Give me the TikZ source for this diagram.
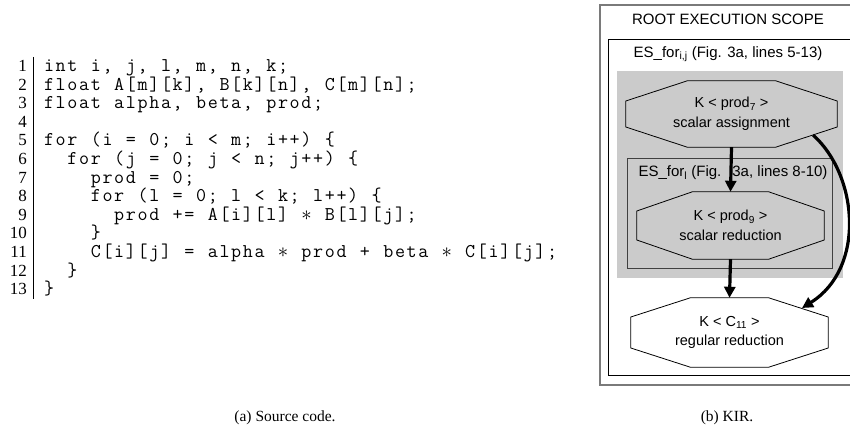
\documentclass[tikz,border=0pt]{standalone}
\usepackage{fontspec}
\setmainfont{Liberation Serif}
\newfontfamily\kirfont{Liberation Sans}
\usetikzlibrary{arrows.meta}
\pgfdeclarelayer{back}
\pgfdeclarelayer{mid}
\pgfsetlayers{back,mid,main}

\newcommand\cstar{$\ast$}
\newlength\colw \setlength\colw{11.7pt}
\def\codeend{\codeend}
\def\cl#1{\ifx\codeend#1\else\hbox to\colw{\hss#1\hss}\expandafter\cl\fi}
\newcommand\codetext[1]{\cl#1\codeend}

\newcommand\octa[4]{%
  \draw[octline, fill=#4] ([xshift=#2]#1.north west) -- ([xshift=-#2]#1.north east)
    -- ([yshift=#3]#1.east) -- ([yshift=-#3]#1.east)
    -- ([xshift=-#2]#1.south east) -- ([xshift=#2]#1.south west)
    -- ([yshift=-#3]#1.west) -- ([yshift=#3]#1.west) -- cycle;}

\definecolor{scopegray}{HTML}{CBCBCB}
\definecolor{rootgray}{HTML}{7A7A7A}

\tikzset{
  codeline/.style={anchor=base west, inner sep=0pt, font=\ttfamily\fontsize{19.5}{18.6}\selectfont},
  numline/.style={anchor=base east, inner sep=0pt, font=\fontsize{17}{18.6}\selectfont},
  kirtext/.style={inner sep=0pt, align=center, font=\kirfont\fontsize{15}{19}\selectfont},
  octnode/.style={inner sep=0pt, align=center, font=\kirfont\fontsize{14.5}{19.5}\selectfont},
  octline/.style={draw=black, line width=0.8pt},
  flow/.style={line width=3.2pt, -{Triangle[length=11pt,width=11pt]}},
  caption/.style={inner sep=0pt, font=\fontsize{15.5}{18}\selectfont},
}

\begin{document}
\begin{tikzpicture}[x=1pt,y=-1pt]
\clip (0,0) rectangle (850,433);

% ---------- (a) source code ----------
\draw[line width=0.8pt] (33,57) -- (33,299);
\foreach \i in {1,...,13} {
  \node[numline] (n\i) at (27, {71.5+(\i-1)*18.6}) {\i};
}
\node[codeline] (c1) at (43,71.5) {\codetext{int~i,~j,~l,~m,~n,~k;}};
\node[codeline] (c2) at (43,90.1) {\codetext{float~A[m][k],~B[k][n],~C[m][n];}};
\node[codeline] (c3) at (43,108.7) {\codetext{float~alpha,~beta,~prod;}};
\node[codeline] (c5) at (43,145.9) {\codetext{for~(i~=~0;~i~<~m;~i++)~\{}};
\node[codeline] (c6) at (43,164.5) {\codetext{~~for~(j~=~0;~j~<~n;~j++)~\{}};
\node[codeline] (c7) at (43,183.1) {\codetext{~~~~prod~=~0;}};
\node[codeline] (c8) at (43,201.7) {\codetext{~~~~for~(l~=~0;~l~<~k;~l++)~\{}};
\node[codeline] (c9) at (43,220.3) {\codetext{~~~~~~prod~+=~A[i][l]~\cstar~B[l][j];}};
\node[codeline] (c10) at (43,238.9) {\codetext{~~~~\}}};
\node[codeline] (c11) at (43,257.5) {\codetext{~~~~C[i][j]~=~alpha~\cstar~prod~+~beta~\cstar~C[i][j];}};
\node[codeline] (c12) at (43,276.1) {\codetext{~~\}}};
\node[codeline] (c13) at (43,294.7) {\codetext{\}}};

% ---------- (b) KIR ----------
\begin{pgfonlayer}{back}
  \draw[draw=rootgray, line width=1.3pt, fill=white] (600,5) rectangle (870,385);
  \draw[draw=black, line width=0.8pt] (608,39) rectangle (868,375);
  \fill[scopegray] (617,71) rectangle (843,278);
  \draw[draw=black!75, line width=0.8pt] (627,158) rectangle (832,268);
\end{pgfonlayer}

\node[kirtext] (root) at (728,19) {ROOT EXECUTION SCOPE};
\node[kirtext] (esij) at (728,54) {ES\_for\textsubscript{i,j} (Fig. 3a, lines 5-13)};
\node[kirtext] (esl) at (733,173) {ES\_for\textsubscript{l} (Fig.\hspace{11pt}3a, lines 8-10)};

\node[octnode, minimum width=211pt, minimum height=66pt] (p7) at (731.5,114) {K < prod\textsubscript{7} >\\scalar assignment};
\node[octnode, minimum width=187pt, minimum height=67pt] (p9) at (730.5,225.5) {K < prod\textsubscript{9} >\\scalar reduction};
\node[octnode, minimum width=197pt, minimum height=69pt] (c11) at (729.5,332.5) {K < C\textsubscript{11} >\\regular reduction};

\begin{pgfonlayer}{mid}
  \octa{p7}{61.5}{13}{scopegray}
  \octa{p9}{55.5}{14.5}{scopegray}
  \octa{c11}{59.5}{15.5}{white}
\end{pgfonlayer}

\coordinate (p7out) at (813,135);
\coordinate (c11in) at (802,308);
\draw[flow] (p7.south) -- (p9.north);
\draw[flow] (p9.south) -- (c11.north);
\draw[flow] (p7out) .. controls (858,175) and (866,268) .. (c11in);

% ---------- captions ----------
\node[caption] (capa) at (285,418) {(a) Source code.};
\node[caption] (capb) at (727,418) {(b) KIR.};
\end{tikzpicture}
\end{document}
